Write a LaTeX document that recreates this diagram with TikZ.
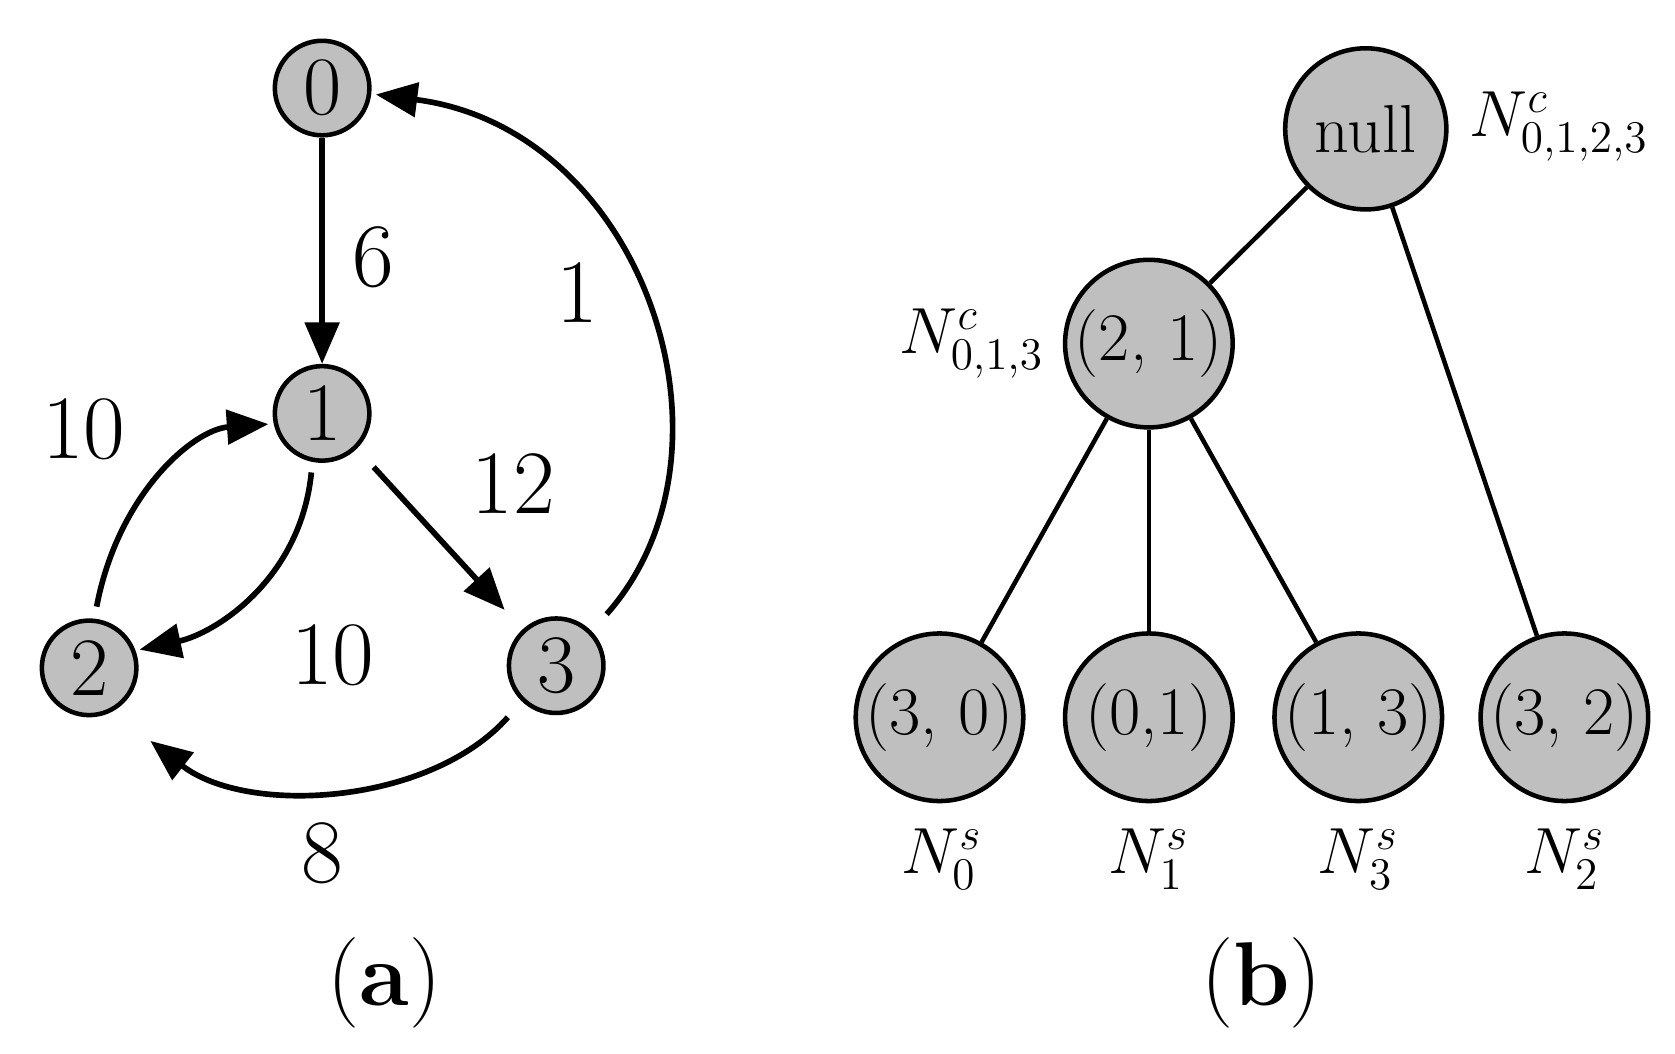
\documentclass[tikz,border=0pt]{standalone}
\usetikzlibrary{arrows.meta}
\begin{document}
\begin{tikzpicture}[x=0.01cm,y=-0.01cm,
  g/.style={circle,draw,line width=1.2pt,fill=gray!50,inner sep=0pt,font=\fontsize{22}{24}\selectfont},
  t/.style={circle,draw,line width=1.2pt,fill=gray!50,inner sep=0pt,minimum size=1.56cm,font=\fontsize{18}{20}\selectfont},
  lab/.style={font=\fontsize{24}{26}\selectfont},
  nl/.style={font=\fontsize{18}{20}\selectfont},
  e/.style={line width=1.5pt,-{Triangle[length=11pt,width=9pt]}},
  te/.style={line width=1.2pt}]
\useasboundingbox (0,0) rectangle (1560,981);
\node[g,minimum size=0.88cm] (n0) at (300,82) {0};
\node[g,minimum size=0.88cm] (n1) at (300,385) {1};
\node[g,minimum size=0.88cm] (n2) at (83,622) {2};
\node[g,minimum size=0.88cm] (n3) at (518,620) {3};
\draw[e] (n0) -- (n1);
\draw[e] (348,435) -- (470,568);
\draw[e] (565,572) .. controls (700,420) and (600,120) .. (350,88);
\draw[e] (290,440) .. controls (280,540) and (200,590) .. (130,605);
\draw[e] (90,565) .. controls (110,460) and (180,400) .. (250,395);
\draw[e] (473,668) .. controls (400,750) and (230,760) .. (140,690);
\node[lab] (l6) at (348,240) {6};
\node[lab] (l1) at (538,272) {1};
\node[lab] (l10a) at (78,400) {10};
\node[lab] (l12) at (478,450) {12};
\node[lab] (l10b) at (310,610) {10};
\node[lab] (l8) at (300,795) {8};
\node[t,minimum size=1.5cm] (nu) at (1272,120) {null};
\node[t] (t21) at (1070,320) {(2, 1)};
\node[t] (t30) at (875,668) {(3, 0)};
\node[t] (t01) at (1070,668) {(0,1)};
\node[t] (t13) at (1265,668) {(1, 3)};
\node[t] (t32) at (1457,668) {(3, 2)};
\draw[te] (nu) -- (t21);
\draw[te] (nu) -- (t32);
\draw[te] (t21) -- (t30);
\draw[te] (t21) -- (t01);
\draw[te] (t21) -- (t13);
\node[nl] (c1) at (1452,118) {$N^{c}_{0,1,2,3}$};
\node[nl] (c2) at (905,320) {$N^{c}_{0,1,3}$};
\node[nl] (s0) at (877,800) {$N^{s}_{0}$};
\node[nl] (s1) at (1070,800) {$N^{s}_{1}$};
\node[nl] (s3) at (1265,800) {$N^{s}_{3}$};
\node[nl] (s2) at (1457,800) {$N^{s}_{2}$};
\node[lab] (ca) at (358,915) {(\textbf{a})};
\node[lab] (cb) at (1175,915) {(\textbf{b})};
\end{tikzpicture}
\end{document}
